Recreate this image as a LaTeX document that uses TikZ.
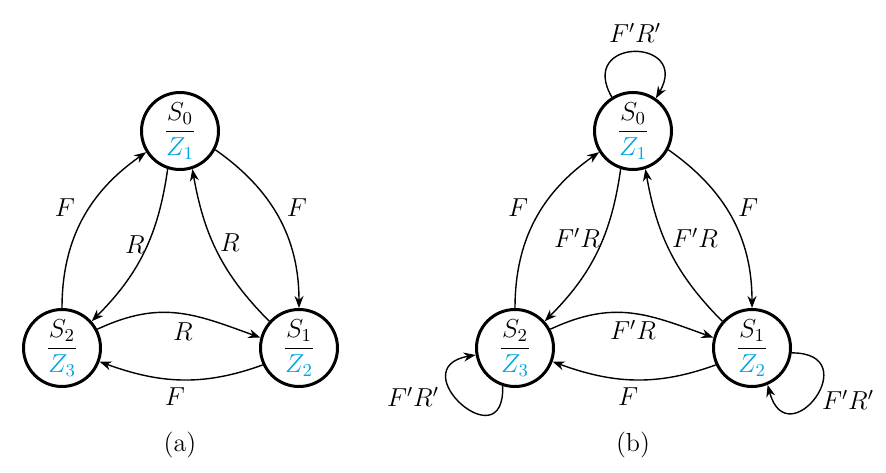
\RequirePackage{fix-cm}
\documentclass[tikz,border=0pt]{standalone}
\usepackage{amsmath}
\usetikzlibrary{arrows.meta,positioning}
\definecolor{zcyan}{RGB}{0,166,226}
\newcommand{\stt}[2]{$\dfrac{S_{#1}}{\textcolor{zcyan}{Z_{#2}}}$}

\begin{document}
\begin{tikzpicture}[x=0.5pt,y=0.5pt,
  font=\fontsize{13}{15}\selectfont,
  state/.style={draw, circle, line width=1.5pt, minimum size=38.5pt, inner sep=0pt},
  trans/.style={-{Stealth[length=6pt,width=4.5pt]}, line width=0.7pt},
  lbl/.style={inner sep=1pt}]
 \useasboundingbox (0,0) rectangle (886,472);
 % (a)
 \node[state] (a0) at (180,341) {\stt{0}{1}};
 \node[state] (a2) at (62,124) {\stt{2}{3}};
 \node[state] (a1) at (299,124) {\stt{1}{2}};
 \draw[trans] (a2.90) to[out=90,in=215] (a0.212);
 \draw[trans] (a0.252) to[out=262,in=45] (a2.42);
 \draw[trans] (a0.332) to[out=325,in=90] (a1.90);
 \draw[trans] (a1.138) to[out=135,in=280] (a0.288);
 \draw[trans] (a2.28) to[out=25,in=160,looseness=1.1] (a1.165);
 \draw[trans] (a1.205) to[out=200,in=340] (a2.340);
 \node[lbl] (aF1) at (65,264) {$F$};
 \node[lbl] (aR1) at (135,227) {$R$};
 \node[lbl] (aF2) at (297,264) {$F$};
 \node[lbl] (aR2) at (230,229) {$R$};
 \node[lbl] (aR3) at (183,140) {$R$};
 \node[lbl] (aF3) at (175,75) {$F$};
 \node (capa) at (180,27) {(a)};
 % (b)
 \node[state] (b0) at (633,341) {\stt{0}{1}};
 \node[state] (b2) at (515,124) {\stt{2}{3}};
 \node[state] (b1) at (752,124) {\stt{1}{2}};
 \draw[trans] (b2.90) to[out=90,in=215] (b0.212);
 \draw[trans] (b0.252) to[out=262,in=45] (b2.42);
 \draw[trans] (b0.332) to[out=325,in=90] (b1.90);
 \draw[trans] (b1.138) to[out=135,in=280] (b0.288);
 \draw[trans] (b2.28) to[out=25,in=160,looseness=1.1] (b1.165);
 \draw[trans] (b1.205) to[out=200,in=340] (b2.340);
 % self loops
 \draw[trans] (b0.122) .. controls +(120:70) and +(60:70) .. (b0.55);
 \draw[trans] (b2.252) .. controls +(272:76) and +(190:76) .. (b2.190);
 \draw[trans] (b1.353) .. controls +(0:76) and +(285:76) .. (b1.293);
 \node[lbl] (bF1) at (518,264) {$F$};
 \node[lbl] (bR1) at (577,234) {$F'R$};
 \node[lbl] (bF2) at (748,264) {$F$};
 \node[lbl] (bR2) at (695,234) {$F'R$};
 \node[lbl] (bR3) at (633,142) {$F'R$};
 \node[lbl] (bF3) at (628,75) {$F$};
 \node[lbl] (bL0) at (635,439) {$F'R'$};
 \node[lbl] (bL2) at (413,75) {$F'R'$};
 \node[lbl] (bL1) at (848,72) {$F'R'$};
 \node (capb) at (633,27) {(b)};
\end{tikzpicture}
\end{document}
